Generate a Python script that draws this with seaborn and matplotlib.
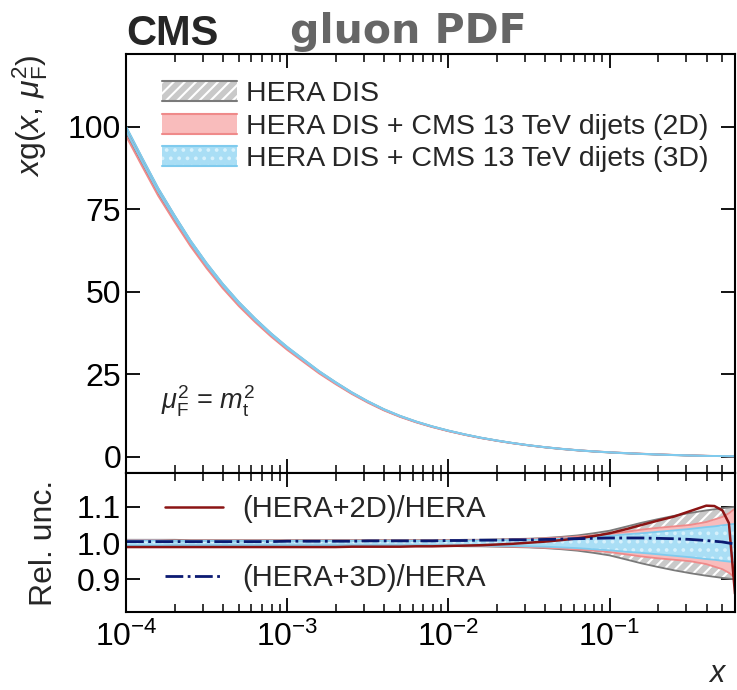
import numpy as np
import matplotlib
matplotlib.use("Agg")
import matplotlib.pyplot as plt
from matplotlib.patches import Rectangle
from matplotlib.lines import Line2D
from matplotlib.legend_handler import HandlerBase
from matplotlib.ticker import LogLocator, FixedLocator, FormatStrFormatter, NullFormatter
import seaborn as sns

# ── Data ─────────────────────────────────────────────────────────────────────
x_grid = [1.00e-4, 1.26e-4, 1.58e-4, 2.00e-4, 2.51e-4, 3.16e-4, 3.98e-4, 5.01e-4, 6.31e-4, 7.94e-4,
          1.00e-3, 1.26e-3, 1.58e-3, 2.00e-3, 2.51e-3, 3.16e-3, 3.98e-3, 5.01e-3, 6.31e-3, 7.94e-3,
          1.00e-2, 1.26e-2, 1.58e-2, 2.00e-2, 2.51e-2, 3.16e-2, 3.98e-2, 5.01e-2, 6.31e-2, 7.94e-2,
          0.100, 0.126, 0.158, 0.200, 0.251, 0.316, 0.398, 0.447, 0.501, 0.550, 0.600]

# xg(x, mu_F^2 = m_t^2), HERA DIS central value
xg_hera = [99.0, 89.6, 80.6, 72.4, 64.9, 58.1, 51.9, 46.4, 41.5, 37.0,
           32.9, 29.2, 25.6, 22.3, 19.3, 16.6, 14.2, 12.2, 10.5, 9.05,
           7.78, 6.66, 5.67, 4.80, 4.04, 3.37, 2.79, 2.30, 1.88, 1.53,
           1.24, 0.995, 0.785, 0.60, 0.44, 0.30, 0.19, 0.15, 0.11, 0.085, 0.07]

# relative half-widths of the uncertainty bands
unc_hera = [0.009, 0.009, 0.009, 0.009, 0.008, 0.008, 0.008, 0.008, 0.008, 0.008,
            0.008, 0.008, 0.008, 0.008, 0.008, 0.008, 0.008, 0.008, 0.008, 0.008,
            0.008, 0.009, 0.009, 0.010, 0.011, 0.012, 0.014, 0.017, 0.021, 0.027,
            0.034, 0.045, 0.056, 0.066, 0.075, 0.083, 0.090, 0.093, 0.096, 0.098, 0.100]
unc_2d = [0.008, 0.008, 0.008, 0.007, 0.007, 0.007, 0.007, 0.007, 0.007, 0.007,
          0.007, 0.007, 0.007, 0.007, 0.007, 0.007, 0.007, 0.007, 0.007, 0.007,
          0.007, 0.008, 0.008, 0.009, 0.010, 0.011, 0.013, 0.015, 0.018, 0.021,
          0.025, 0.031, 0.037, 0.042, 0.046, 0.050, 0.058, 0.065, 0.072, 0.082, 0.095]
unc_3d = [0.007, 0.007, 0.007, 0.006, 0.006, 0.006, 0.006, 0.006, 0.006, 0.006,
          0.006, 0.006, 0.006, 0.006, 0.006, 0.006, 0.006, 0.006, 0.006, 0.006,
          0.006, 0.007, 0.007, 0.008, 0.008, 0.009, 0.010, 0.012, 0.014, 0.017,
          0.020, 0.024, 0.027, 0.031, 0.035, 0.039, 0.044, 0.046, 0.049, 0.051, 0.053]

# central-value ratios to HERA DIS
ratio_2d = [0.989, 0.989, 0.989, 0.989, 0.989, 0.989, 0.989, 0.989, 0.989, 0.989,
            0.989, 0.989, 0.989, 0.989, 0.990, 0.990, 0.990, 0.990, 0.991, 0.991,
            0.992, 0.993, 0.994, 0.996, 0.998, 1.001, 1.004, 1.008, 1.013, 1.019,
            1.027, 1.038, 1.050, 1.062, 1.073, 1.088, 1.103, 1.102, 1.090, 1.055, 0.860]
ratio_3d = [1.004, 1.004, 1.004, 1.004, 1.004, 1.004, 1.004, 1.004, 1.004, 1.004,
            1.005, 1.005, 1.005, 1.005, 1.005, 1.006, 1.006, 1.006, 1.006, 1.006,
            1.007, 1.007, 1.008, 1.008, 1.009, 1.009, 1.010, 1.011, 1.012, 1.013,
            1.014, 1.014, 1.014, 1.013, 1.012, 1.010, 1.007, 1.005, 1.003, 1.000, 0.997]

labels_bands = ["HERA DIS",
                "HERA DIS + CMS 13 TeV dijets (2D)",
                "HERA DIS + CMS 13 TeV dijets (3D)"]
labels_ratio = ["(HERA+2D)/HERA", "(HERA+3D)/HERA"]
y_ticks_top = [0, 25, 50, 75, 100]
y_ticks_bot = [0.9, 1.0, 1.1]

# ── Style ────────────────────────────────────────────────────────────────────
GRAY_FILL = "#c9c9c9"
GRAY_EDGE = "#7a7a7a"
PINK_FILL = "#f9bcbc"
PINK_EDGE = "#ef8a8a"
BLUE_FILL = "#a9def5"
BLUE_DOT = "#d6f1fc"
BLUE_EDGE = "#7fcbee"
RED_LINE = "#8b1414"
NAVY_LINE = "#0b1a72"

sns.set_theme(style="ticks")
plt.rcParams.update({
    "font.family": ["Liberation Sans", "DejaVu Sans"],
    "mathtext.fontset": "custom",
    "mathtext.rm": "Liberation Sans",
    "mathtext.it": "Liberation Sans:italic",
    "mathtext.bf": "Liberation Sans:bold",
    "axes.linewidth": 1.5,
    "axes.edgecolor": "black",
    "hatch.linewidth": 1.5,
    "xtick.direction": "in",
    "ytick.direction": "in",
    "xtick.top": True,
    "ytick.right": True,
    "xtick.major.size": 10,
    "xtick.minor.size": 5.5,
    "ytick.major.size": 10,
    "xtick.major.width": 1.3,
    "xtick.minor.width": 1.1,
    "ytick.major.width": 1.3,
    "xtick.labelsize": 23,
    "ytick.labelsize": 23,
    "xtick.color": "black",
    "ytick.color": "black",
})

x = np.array(x_grid)
xg = np.array(xg_hera)
u_h, u_2, u_3 = np.array(unc_hera), np.array(unc_2d), np.array(unc_3d)
r_2, r_3 = np.array(ratio_2d), np.array(ratio_3d)

fig = plt.figure(figsize=(7.37, 6.90), dpi=100)
ax_t = fig.add_axes([0.171, 0.3145, 0.8263, 0.6072])
ax_b = fig.add_axes([0.171, 0.1130, 0.8263, 0.2015])


def draw_band(ax, lo, hi, fill, edge, hatch=None, hatch_color="white", lw=1.3):
    ax.fill_between(x, lo, hi, facecolor=fill, edgecolor=hatch_color if hatch else fill,
                    hatch=hatch, linewidth=0)
    sns.lineplot(x=x, y=lo, ax=ax, color=edge, lw=lw, estimator=None, sort=False)
    sns.lineplot(x=x, y=hi, ax=ax, color=edge, lw=lw, estimator=None, sort=False)


class BandKey:
    def __init__(self, fill, edge, hatch=None, hatch_color="white"):
        self.fill, self.edge, self.hatch, self.hatch_color = fill, edge, hatch, hatch_color


class BandHandler(HandlerBase):
    """Legend key: filled (hatched) box with lines on top and bottom only."""
    def create_artists(self, legend, key, xd, yd, w, h, fontsize, trans):
        rect = Rectangle((-xd, -yd), w, h, facecolor=key.fill, lw=0, transform=trans,
                         edgecolor=key.hatch_color if key.hatch else key.fill, hatch=key.hatch)
        top = Line2D([-xd, -xd + w], [-yd + h, -yd + h], color=key.edge, lw=1.5, transform=trans)
        bot = Line2D([-xd, -xd + w], [-yd, -yd], color=key.edge, lw=1.5, transform=trans)
        return [rect, top, bot]


# ── Top panel: xg(x) with uncertainty bands ──────────────────────────────────
draw_band(ax_t, xg * (1 - u_h), xg * (1 + u_h), GRAY_FILL, GRAY_EDGE, hatch="///")
draw_band(ax_t, xg * r_2 * (1 - u_2), xg * r_2 * (1 + u_2), PINK_FILL, PINK_EDGE)
draw_band(ax_t, xg * r_3 * (1 - u_3), xg * r_3 * (1 + u_3), BLUE_FILL, BLUE_EDGE,
          hatch="..", hatch_color=BLUE_DOT)

ax_t.set_xscale("log")
ax_t.set_xlim(1e-4, 0.6)
ax_t.set_ylim(-5, 122)
ax_t.yaxis.set_major_locator(FixedLocator(y_ticks_top))
ax_t.xaxis.set_major_locator(LogLocator(base=10))
ax_t.xaxis.set_minor_locator(LogLocator(base=10, subs=np.arange(2, 10)))
ax_t.xaxis.set_major_formatter(NullFormatter())
ax_t.xaxis.set_minor_formatter(NullFormatter())
ax_t.set_ylabel(r"$x$g($x$, $\mu_{\mathrm{F}}^{2}$)", fontsize=23, loc="top", labelpad=13)

band_keys = [BandKey(GRAY_FILL, GRAY_EDGE, "///"),
             BandKey(PINK_FILL, PINK_EDGE),
             BandKey(BLUE_FILL, BLUE_EDGE, "..", BLUE_DOT)]
ax_t.legend(band_keys, labels_bands, loc="upper left", bbox_to_anchor=(0.04, 0.962),
            frameon=False, fontsize=20.5, handlelength=2.65, handleheight=0.7,
            handletextpad=0.3, labelspacing=0.22, borderaxespad=0,
            handler_map={BandKey: BandHandler()})

ax_t.text(0.057, 0.17, r"$\mu_{\mathrm{F}}^{2}$ = $m_{\mathrm{t}}^{2}$", transform=ax_t.transAxes,
          fontsize=19.5, ha="left", va="center")

# ── Bottom panel: relative uncertainties and ratios ──────────────────────────
ones = np.ones_like(x)
draw_band(ax_b, ones - u_h, ones + u_h, GRAY_FILL, GRAY_EDGE, hatch="///")
draw_band(ax_b, ones - u_2, ones + u_2, PINK_FILL, PINK_EDGE)
draw_band(ax_b, ones - u_3, ones + u_3, BLUE_FILL, BLUE_EDGE, hatch="..", hatch_color=BLUE_DOT)

sns.lineplot(x=x, y=r_2, ax=ax_b, color=RED_LINE, lw=1.8, estimator=None, sort=False)
sns.lineplot(x=x, y=r_3, ax=ax_b, color=NAVY_LINE, lw=2.0, linestyle="-.",
             estimator=None, sort=False)

ax_b.set_xscale("log")
ax_b.set_xlim(1e-4, 0.6)
ax_b.set_ylim(0.81, 1.193)
ax_b.yaxis.set_major_locator(FixedLocator(y_ticks_bot))
ax_b.yaxis.set_major_formatter(FormatStrFormatter("%.1f"))
ax_b.xaxis.set_major_locator(LogLocator(base=10))
ax_b.xaxis.set_minor_locator(LogLocator(base=10, subs=np.arange(2, 10)))
ax_b.xaxis.set_minor_formatter(NullFormatter())
ax_b.tick_params(axis="x", which="major", pad=7)
ax_b.set_ylabel("Rel. unc.", fontsize=23, labelpad=13)
ax_b.set_xlabel(r"$x$", fontsize=22, loc="right", labelpad=4)
ax_b.xaxis.label.set_x(0.988)

ratio_handles = [Line2D([], [], color=RED_LINE, lw=1.8),
                 Line2D([], [], color=NAVY_LINE, lw=2.0, linestyle="-.")]
ax_b.legend(ratio_handles, labels_ratio, loc="upper left", bbox_to_anchor=(0.045, 0.925),
            frameon=False, fontsize=21, handlelength=2.0, handletextpad=0.65,
            labelspacing=1.41, borderaxespad=0)

fig.align_ylabels([ax_t, ax_b])

# ── Header ───────────────────────────────────────────────────────────────────
fig.text(0.171, 1 - 45 / 690, "CMS", fontsize=30, fontweight="bold", ha="left", va="baseline")
fig.text(0.393, 1 - 43 / 690, "gluon PDF", fontsize=29.5, fontweight="bold", color="#666666",
         family="DejaVu Sans", ha="left", va="baseline")

fig.savefig("out.png", dpi=100)
